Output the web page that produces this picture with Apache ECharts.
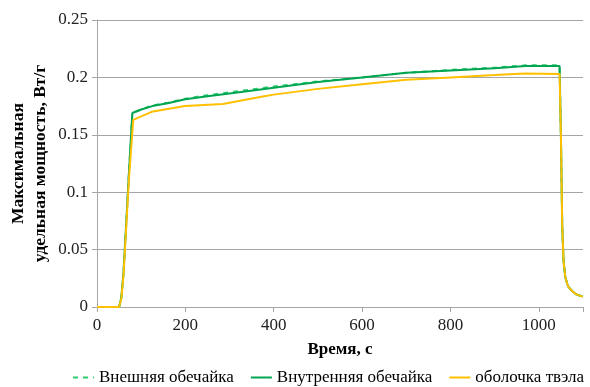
<!DOCTYPE html>
<html>
<head>
<meta charset="utf-8">
<script src="https://cdn.jsdelivr.net/npm/echarts@6/dist/echarts.min.js"></script>
<style>
html, body { margin: 0; padding: 0; background: #fff; }
#chart { width: 590px; height: 387px; }
</style>
</head>
<body>
<div id="chart"></div>
<script>
// время, с
var tGreen = [0, 50, 55, 60, 65, 72, 80, 100, 125, 160, 200, 250, 300, 370, 400, 500, 600, 700, 800, 900, 970, 1047, 1050, 1053, 1056, 1060, 1066, 1075, 1085, 1096, 1100];
var outerShell = [0, 0, 0.008, 0.03, 0.065, 0.115, 0.169, 0.172, 0.1755, 0.178, 0.1815, 0.1845, 0.187, 0.1905, 0.192, 0.1965, 0.2, 0.204, 0.2065, 0.2085, 0.2105, 0.2105, 0.15, 0.07, 0.04, 0.026, 0.018, 0.014, 0.011, 0.0095, 0.009];
var innerShell = [0, 0, 0.008, 0.03, 0.065, 0.115, 0.169, 0.172, 0.175, 0.1775, 0.181, 0.1835, 0.186, 0.1895, 0.191, 0.196, 0.2, 0.204, 0.206, 0.208, 0.21, 0.21, 0.15, 0.07, 0.04, 0.026, 0.018, 0.014, 0.011, 0.0095, 0.009];
var tYellow = [0, 50, 55, 60, 65, 72, 82, 100, 124, 160, 199, 285, 369, 400, 500, 600, 700, 800, 900, 968, 1047, 1050, 1053, 1056, 1060, 1066, 1075, 1085, 1096, 1100];
var fuelClad = [0, 0, 0.007, 0.028, 0.062, 0.11, 0.163, 0.166, 0.170, 0.1725, 0.175, 0.1768, 0.183, 0.185, 0.19, 0.194, 0.198, 0.2, 0.202, 0.2035, 0.203, 0.15, 0.07, 0.04, 0.026, 0.018, 0.014, 0.011, 0.0095, 0.009];

var names = ['Внешняя обечайка', 'Внутренняя обечайка', 'оболочка твэла'];

function pairs(xs, ys) {
	var out = [];
	for (var i = 0; i < xs.length; i++) out.push([xs[i], ys[i]]);
	return out;
}

var myChart = echarts.init(document.getElementById('chart'));
var font = '"Liberation Serif", "Times New Roman", serif';
var option = {
	animation: false,
	textStyle: { fontFamily: font },
	grid: { left: 97, right: 7, top: 20, bottom: 80, outerBoundsMode: 'none', containLabel: false },
	legend: {
		top: 369,
		left: 72,
		width: 540,
		padding: 0,
		itemWidth: 21,
		itemHeight: 10,
		itemGap: 16,
		itemStyle: { opacity: 0 },
		textStyle: { fontFamily: font, fontSize: 17, color: '#000' },
		data: names
	},
	xAxis: {
		type: 'value',
		min: 0,
		max: 1100,
		interval: 200,
		name: 'Время, с',
		nameLocation: 'middle',
		nameGap: 34,
		nameTextStyle: { fontFamily: font, fontSize: 17, fontWeight: 'bold', color: '#000' },
		axisLine: { lineStyle: { color: '#a6a6a6' } },
		axisTick: { show: true, length: 5, lineStyle: { color: '#a6a6a6' } },
		axisLabel: {
			fontFamily: font, fontSize: 17, color: '#222', margin: 10,
			formatter: function(v) { return v > 1000 ? '' : String(v); }
		},
		splitLine: { show: false }
	},
	yAxis: {
		type: 'value',
		min: 0,
		max: 0.25,
		interval: 0.05,
		name: 'Максимальная\nудельная мощность, Вт/г',
		nameLocation: 'middle',
		nameGap: 46,
		nameMoveOverlap: false,
		nameTextStyle: { fontFamily: font, fontSize: 17.5, fontWeight: 'bold', color: '#000', lineHeight: 22 },
		axisLine: { show: true, lineStyle: { color: '#a6a6a6' } },
		axisTick: { show: true, length: 5, lineStyle: { color: '#a6a6a6' } },
		axisLabel: { fontFamily: font, fontSize: 17, color: '#222', margin: 9 },
		splitLine: { lineStyle: { color: '#a6a6a6' } }
	},
	series: [
		{
			name: names[0],
			type: 'line',
			symbol: 'none',
			data: pairs(tGreen, outerShell),
			lineStyle: { color: '#2ecc71', width: 2, type: [5, 5] },
			itemStyle: { color: '#2ecc71' }
		},
		{
			name: names[1],
			type: 'line',
			symbol: 'none',
			data: pairs(tGreen, innerShell),
			lineStyle: { color: '#00a550', width: 2 },
			itemStyle: { color: '#00a550' }
		},
		{
			name: names[2],
			type: 'line',
			symbol: 'none',
			data: pairs(tYellow, fuelClad),
			lineStyle: { color: '#ffc000', width: 2 },
			itemStyle: { color: '#ffc000' }
		}
	]
};
myChart.setOption(option);

window.onresize = function() {
	myChart.resize();
};
</script>
</body>
</html>
